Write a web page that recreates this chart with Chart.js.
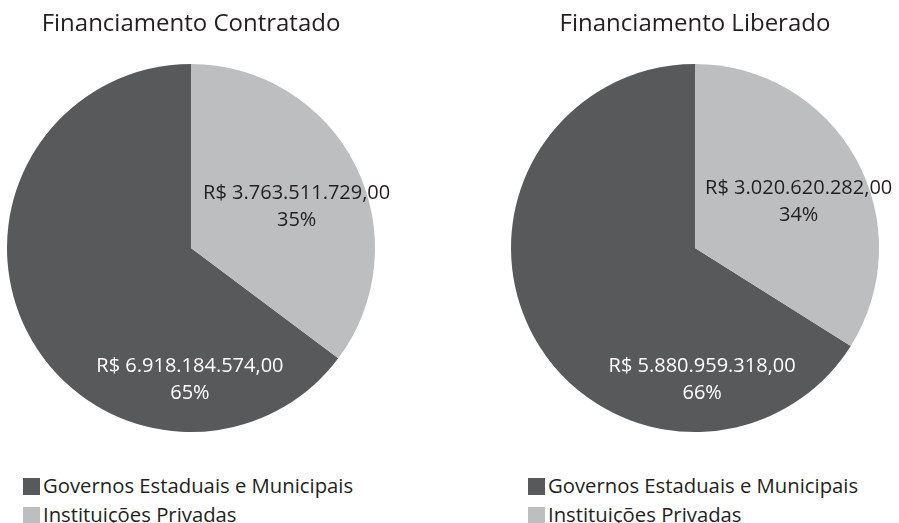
<!DOCTYPE html>
<html>
<head>
<meta charset="utf-8">
<script src="https://cdn.jsdelivr.net/npm/chart.js@4/dist/chart.umd.min.js"></script>
<style>
    html, body { margin: 0; padding: 0; background: #ffffff; }
    body { width: 899px; height: 523px; position: relative; overflow: hidden; font-family: "Open Sans", sans-serif; }
    canvas { position: absolute; top: 0; }
    .legenda { position: absolute; top: 474px; color: #231f20; font-size: 20.3px; }
    .legenda div { height: 29px; line-height: 22px; white-space: nowrap; }
    .legenda span { display: inline-block; width: 17px; height: 17px; margin-right: 3px; vertical-align: -2px; }
</style>
</head>
<body>
<canvas id="chartContratado" width="448" height="440" style="left:-33px"></canvas>
<canvas id="chartLiberado" width="448" height="440" style="left:471px"></canvas>
<div class="legenda" id="legendaContratado" style="left:23px"></div>
<div class="legenda" id="legendaLiberado" style="left:528px"></div>
<script>
const categorias = ["Governos Estaduais e Municipais", "Instituições Privadas"];
const contratado = [6918184574.00, 3763511729.00];
const liberado = [5880959318.00, 3020620282.00];
const titulos = ["Financiamento Contratado", "Financiamento Liberado"];

const cores = ["#58595b", "#bcbec0"];
const corTexto = ["#ffffff", "#231f20"];
// onde fica o rotulo dentro de cada fatia (fracao do arco, fracao do raio)
const rotuloArco = [0.23, 0.535];
const rotuloRaio = [0.71, 0.62];

function formataReal(v) {
    const partes = v.toFixed(2).split(".");
    const inteiro = partes[0].replace(/\B(?=(\d{3})+(?!\d))/g, ".");
    return "R$ " + inteiro + "," + partes[1];
}

const rotulos = {
    id: "rotulos",
    afterDatasetsDraw(chart) {
        const ctx = chart.ctx;
        const valores = chart.data.datasets[0].data;
        const total = valores.reduce((a, b) => a + b, 0);
        chart.getDatasetMeta(0).data.forEach((arc, i) => {
            const p = arc.getProps(["x", "y", "startAngle", "endAngle", "outerRadius"], true);
            const ang = p.startAngle + (p.endAngle - p.startAngle) * rotuloArco[i];
            const r = p.outerRadius * rotuloRaio[i];
            const cx = p.x + Math.cos(ang) * r;
            const cy = p.y + Math.sin(ang) * r + 1.5;
            ctx.save();
            ctx.font = "20px 'Open Sans'";
            ctx.fillStyle = corTexto[i];
            ctx.textAlign = "center";
            ctx.textBaseline = "middle";
            ctx.fillText(formataReal(valores[i]), cx, cy - 13.5);
            ctx.fillText(Math.round(valores[i] / total * 100) + "%", cx, cy + 13.5);
            ctx.restore();
        });
    }
};

function criaPizza(id, titulo, valores) {
    const total = valores.reduce((a, b) => a + b, 0);
    new Chart(document.getElementById(id).getContext("2d"), {
        type: "pie",
        data: {
            labels: categorias,
            datasets: [{
                data: valores,
                backgroundColor: cores,
                borderWidth: 0,
            }],
        },
        options: {
            responsive: false,
            animation: false,
            rotation: 360 * valores[1] / total,
            layout: { padding: { bottom: 8 } },
            plugins: {
                legend: { display: false },
                tooltip: { enabled: false },
                title: {
                    display: true,
                    text: titulo,
                    color: "#231f20",
                    font: { family: "'Open Sans'", size: 24, weight: "normal" },
                    padding: { top: 9.5, bottom: 25.7 },
                },
            },
        },
        plugins: [rotulos],
    });
}

function criaLegenda(id) {
    const el = document.getElementById(id);
    categorias.forEach((nome, i) => {
        const linha = document.createElement("div");
        const caixa = document.createElement("span");
        caixa.style.background = cores[i];
        linha.appendChild(caixa);
        linha.appendChild(document.createTextNode(nome));
        el.appendChild(linha);
    });
}

criaPizza("chartContratado", titulos[0], contratado);
criaPizza("chartLiberado", titulos[1], liberado);
criaLegenda("legendaContratado");
criaLegenda("legendaLiberado");
</script>
</body>
</html>
